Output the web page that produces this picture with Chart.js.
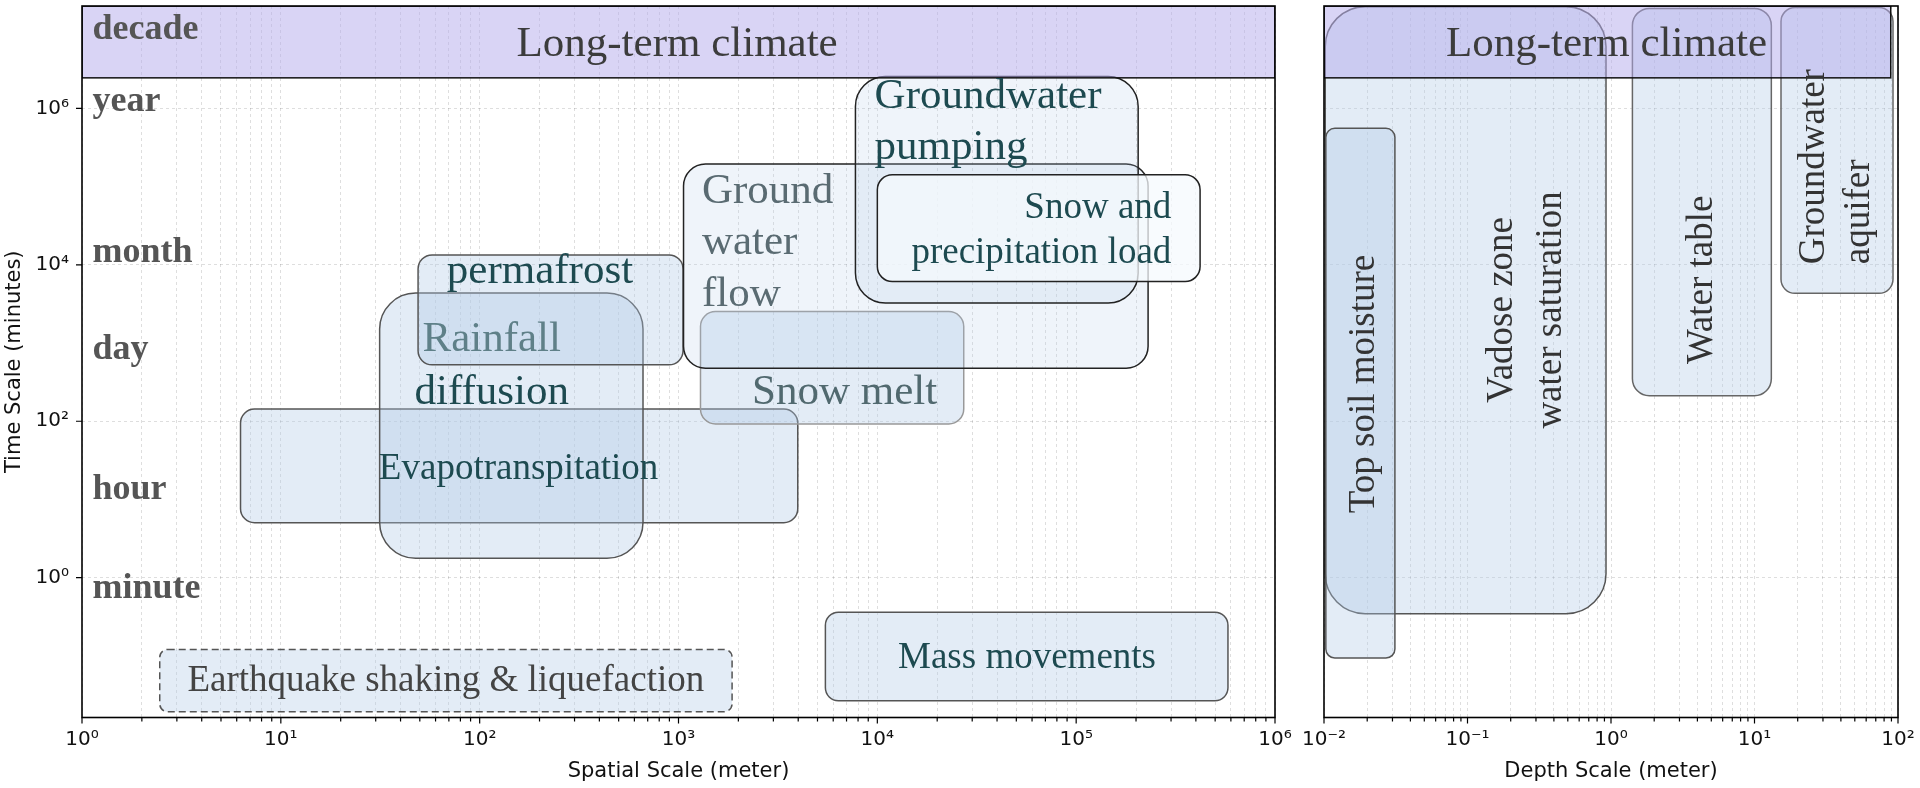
<!DOCTYPE html>
<html>
<head>
<meta charset="utf-8">
<title>Process time and space scales</title>
<script src="https://cdn.jsdelivr.net/npm/chart.js@4.4.1/dist/chart.umd.min.js"></script>
<style>
  body { margin: 0; background: #fff; width: 1920px; height: 788px; overflow: hidden; position: relative; }
  canvas { position: absolute; top: 0; }
  #spatial { left: 0; }
  #depth { left: 1290px; }
</style>
</head>
<body>
<canvas id="spatial" width="1300" height="788"></canvas>
<canvas id="depth" width="630" height="788"></canvas>
<script>
// axes
const timeRange = [0.0163, 2.04e7];
const timeTicks = [1, 100, 1e4, 1e6];
const spatialTicks = [1, 10, 100, 1e3, 1e4, 1e5, 1e6];
const depthTicks = [0.01, 0.1, 1, 10, 100];

// time scale names written inside the left panel
const timeNames = ["decade", "year", "month", "day", "hour", "minute"];
const timeNameY = [1.02e7, 1.23e6, 1.41e4, 813, 13.2, 0.73];
const timeNameX = 1.13;

// long-term climate band (both panels)
const climateLabel = "Long-term climate";
const climateTime = [2.46e6, 2.04e7];
const climateSpatial = [1, 1e6];
const climateDepth = [0.01, 89];
const climateLabelSpatial = 984;
const climateLabelDepth = 0.93;
const climateLabelTime = 6.6e6;

// left panel: spatial extent (meter) vs time scale (minutes)
const spatialProcesses = [
	"Earthquake shaking & liquefaction",
	"Mass movements",
	"Evapotranspitation",
	"Rainfall\ndiffusion",
	"permafrost",
	"Snow melt",
	"Ground\nwater\nflow",
	"Groundwater\npumping",
	"Snow and\nprecipitation load",
];
const spatialMin = [2.46, 5480, 6.27, 31.4, 49, 1290, 1060, 7760, 1.0e4];
const spatialMax = [1860, 5.8e5, 3980, 663, 1054, 27200, 2.3e5, 2.05e5, 4.2e5];
const spatialTimeMin = [0.0193, 0.0267, 5.05, 1.77, 526, 92.5, 477, 3240, 6120];
const spatialTimeMax = [0.121, 0.361, 143, 4350, 13400, 2530, 1.94e5, 2.56e6, 1.42e5];
const spatialLabelX = [67.6, 5.66e4, 157, 115, 201, 6840, 1312, 9690, 3.01e5];
const spatialLabelY = [0.0467, 0.093, 24.4, 504, 8130, 231, 1.91e4, 6.65e5, 2.74e4];

// right panel: depth (meter) vs time scale (minutes)
const depthProcesses = [
	"Vadose zone\nwater saturation",
	"Top soil moisture",
	"Water table",
	"Groundwater\naquifer",
];
const depthMin = [0.0102, 0.0103, 1.41, 15.3];
const depthMax = [0.923, 0.0312, 13.1, 92.3];
const depthTimeMin = [0.347, 0.094, 212, 4330];
const depthTimeMax = [2.0e7, 5.56e5, 1.9e7, 1.95e7];
const depthLabelX = [0.26, 0.019, 4.34, 37.5];
const depthLabelY = [2650, 300, 6430, 1.8e5];

// styles
const lightFill = "rgba(176, 200, 228, 0.35)";
const paleFill = "rgba(176, 200, 228, 0.2)";
const teal = "#1d4a50";

const spatialStyles = [
	{ fill: lightFill, stroke: "#555", dash: [7, 4], radius: 8, size: 37, color: "#444" },
	{ fill: lightFill, stroke: "#555", radius: 13, size: 37, color: teal },
	{ fill: lightFill, stroke: "#555", radius: 14, size: 37, color: teal },
	{ fill: lightFill, stroke: "#555", radius: 36, size: 43, color: teal, lineColors: ["#5f8088", teal], lineHeight: 1.23 },
	{ fill: lightFill, stroke: "#555", radius: 14, size: 43, color: teal },
	{ fill: lightFill, stroke: "#999", radius: 15, size: 43, color: "#51696f" },
	{ fill: paleFill, stroke: "#222", radius: 22, size: 43, color: "#5a6b72", align: "left", lineHeight: 1.2 },
	{ fill: paleFill, stroke: "#222", radius: 30, size: 43, color: teal, align: "left", lineHeight: 1.2 },
	{ fill: "rgba(246, 249, 253, 0.75)", stroke: "#222", radius: 15, size: 37, color: teal, align: "right", lineHeight: 1.22 },
];
const depthStyles = [
	{ fill: lightFill, stroke: "#555", radius: 40, size: 37, color: "#333", rotate: true, lineHeight: 1.32 },
	{ fill: lightFill, stroke: "#555", radius: 9, size: 37, color: "#333", rotate: true },
	{ fill: lightFill, stroke: "#666", radius: 17, size: 37, color: "#333", rotate: true },
	{ fill: lightFill, stroke: "#666", radius: 14, size: 37, color: "#333", rotate: true, block: true, lineHeight: 1.22 },
];
const bandStyle = { fill: "rgba(180, 170, 235, 0.5)", stroke: "#111", size: 43, color: "#3c3c3c" };
const nameStyle = { size: 36, bold: true, color: "#555", align: "left" };

const SUP = { "-": "\u207B", 0: "\u2070", 1: "\u00B9", 2: "\u00B2", 3: "\u00B3", 4: "\u2074", 5: "\u2075", 6: "\u2076", 7: "\u2077", 8: "\u2078", 9: "\u2079" };
function powLabel(v) {
	const e = Math.round(Math.log10(v));
	return "10" + String(e).split("").map((c) => SUP[c]).join("");
}

function withMinors(majors) {
	const out = [];
	majors.forEach((m, i) => {
		out.push({ value: m, major: true });
		if (i < majors.length - 1) {
			for (let k = 2; k <= 9; k++) out.push({ value: m * k, major: false });
		}
	});
	return out;
}

function roundBox(ctx, x0, y0, x1, y1, r) {
	const l = Math.min(x0, x1), rt = Math.max(x0, x1);
	const t = Math.min(y0, y1), b = Math.max(y0, y1);
	r = Math.min(r, (rt - l) / 2, (b - t) / 2);
	ctx.beginPath();
	ctx.moveTo(l + r, t);
	ctx.arcTo(rt, t, rt, b, r);
	ctx.arcTo(rt, b, l, b, r);
	ctx.arcTo(l, b, l, t, r);
	ctx.arcTo(l, t, rt, t, r);
	ctx.closePath();
}

function drawText(ctx, text, px, py, st) {
	const lines = text.split("\n");
	const lh = st.size * (st.lineHeight || 1.2);
	ctx.save();
	ctx.translate(px, py);
	if (st.rotate) ctx.rotate(-Math.PI / 2);
	ctx.font = `${st.bold ? "bold " : ""}${st.size}px "Liberation Serif", "DejaVu Serif", serif`;
	ctx.textBaseline = "middle";
	const maxW = Math.max(...lines.map((l) => ctx.measureText(l).width));
	lines.forEach((line, i) => {
		const dy = (i - (lines.length - 1) / 2) * lh;
		ctx.fillStyle = st.lineColors ? st.lineColors[i] : st.color;
		if (st.block) {
			ctx.textAlign = "left";
			ctx.fillText(line, -maxW / 2, dy);
		} else {
			ctx.textAlign = st.align || "center";
			ctx.fillText(line, 0, dy);
		}
	});
	ctx.restore();
}

function processPlugin(id, boxes, band, names, yTickMarks) {
	return {
		id,
		beforeDatasetsDraw(chart) {
			const { ctx, chartArea: a, scales: { x, y } } = chart;
			ctx.save();
			ctx.beginPath();
			ctx.rect(a.left, a.top, a.right - a.left, a.bottom - a.top);
			ctx.clip();
			// boxes first, text on top of all boxes
			boxes.names.forEach((name, i) => {
				const st = boxes.styles[i];
				roundBox(
					ctx,
					x.getPixelForValue(boxes.x0[i]),
					y.getPixelForValue(boxes.y0[i]),
					x.getPixelForValue(boxes.x1[i]),
					y.getPixelForValue(boxes.y1[i]),
					st.radius
				);
				ctx.fillStyle = st.fill;
				ctx.fill();
				ctx.lineWidth = 1.5;
				ctx.strokeStyle = st.stroke;
				ctx.setLineDash(st.dash || []);
				ctx.stroke();
				ctx.setLineDash([]);
			});
			// climate band
			const bx0 = x.getPixelForValue(band.x[0]);
			const bx1 = x.getPixelForValue(band.x[1]);
			const by0 = y.getPixelForValue(band.y[1]);
			const by1 = y.getPixelForValue(band.y[0]);
			ctx.fillStyle = bandStyle.fill;
			ctx.fillRect(bx0, by0, bx1 - bx0, by1 - by0);
			ctx.lineWidth = 1.5;
			ctx.strokeStyle = bandStyle.stroke;
			ctx.strokeRect(bx0, by0, bx1 - bx0, by1 - by0);

			boxes.names.forEach((name, i) => {
				drawText(ctx, name, x.getPixelForValue(boxes.lx[i]), y.getPixelForValue(boxes.ly[i]), boxes.styles[i]);
			});
			drawText(ctx, climateLabel, x.getPixelForValue(band.lx), y.getPixelForValue(band.ly), bandStyle);
			if (names) {
				names.labels.forEach((n, i) => {
					drawText(ctx, n, x.getPixelForValue(names.x), y.getPixelForValue(names.y[i]), nameStyle);
				});
			}
			ctx.restore();
		},
		afterDraw(chart) {
			const { ctx, chartArea: a, scales: { x, y } } = chart;
			ctx.save();
			ctx.strokeStyle = "#000";
			ctx.lineWidth = 1.6;
			ctx.strokeRect(a.left, a.top, a.right - a.left, a.bottom - a.top);
			ctx.lineWidth = 1.2;
			ctx.beginPath();
			x.ticks.forEach((t) => {
				const px = x.getPixelForValue(t.value);
				ctx.moveTo(px, a.bottom);
				ctx.lineTo(px, a.bottom + (t.major ? 6 : 4));
			});
			if (yTickMarks) {
				y.ticks.forEach((t) => {
					const py = y.getPixelForValue(t.value);
					ctx.moveTo(a.left, py);
					ctx.lineTo(a.left - 6, py);
				});
			}
			ctx.stroke();
			ctx.restore();
		},
	};
}

const gridColor = "rgba(0, 0, 0, 0.13)";
const tickFont = { family: "DejaVu Sans", size: 20 };
const titleFont = { family: "DejaVu Sans", size: 21 };

function xScale(min, max, majors, title) {
	return {
		type: "logarithmic",
		position: "bottom",
		min,
		max,
		afterBuildTicks: (s) => {
			s.ticks = withMinors(majors);
		},
		afterFit: (s) => {
			s.height = 70.5;
			s.paddingLeft = 0;
			s.paddingRight = 0;
		},
		grid: { color: gridColor, lineWidth: 1, drawTicks: false },
		border: { display: false, dash: [3, 3] },
		ticks: {
			autoSkip: false,
			maxRotation: 0,
			padding: 10,
			color: "#111",
			font: tickFont,
			callback: (v, i, ts) => (ts[i] && ts[i].major ? powLabel(v) : ""),
		},
		title: { display: true, text: title, color: "#111", font: titleFont, padding: { top: 4, bottom: 4 } },
	};
}

function yScale(showLabels) {
	return {
		type: "logarithmic",
		position: "left",
		min: timeRange[0],
		max: timeRange[1],
		afterBuildTicks: (s) => {
			s.ticks = timeTicks.map((v) => ({ value: v, major: true }));
		},
		afterFit: (s) => {
			s.width = showLabels ? 82 : 0;
			s.paddingTop = 0;
			s.paddingBottom = 0;
		},
		grid: { color: gridColor, lineWidth: 1, drawTicks: false },
		border: { display: false, dash: [3, 3] },
		ticks: { display: showLabels, padding: 13, color: "#111", font: tickFont, callback: (v) => powLabel(v) },
		title: { display: showLabels, text: "Time Scale (minutes)", color: "#111", font: titleFont, padding: { top: 2, bottom: 2 } },
	};
}

function baseOptions(padding, xs, ys) {
	return {
		responsive: false,
		animation: false,
		events: [],
		layout: { padding },
		plugins: { legend: { display: false }, tooltip: { enabled: false } },
		scales: { x: xs, y: ys },
	};
}

new Chart(document.getElementById("spatial"), {
	type: "scatter",
	data: { datasets: [{ data: [] }] },
	options: baseOptions(
		{ left: 0, top: 6, right: 25, bottom: 0 },
		xScale(1, 1e6, spatialTicks, "Spatial Scale (meter)"),
		yScale(true)
	),
	plugins: [
		processPlugin(
			"spatialBoxes",
			{
				names: spatialProcesses,
				x0: spatialMin,
				x1: spatialMax,
				y0: spatialTimeMin,
				y1: spatialTimeMax,
				lx: spatialLabelX,
				ly: spatialLabelY,
				styles: spatialStyles,
			},
			{ x: climateSpatial, y: climateTime, lx: climateLabelSpatial, ly: climateLabelTime },
			{ labels: timeNames, x: timeNameX, y: timeNameY },
			true
		),
	],
});

new Chart(document.getElementById("depth"), {
	type: "scatter",
	data: { datasets: [{ data: [] }] },
	options: baseOptions(
		{ left: 34, top: 6, right: 22, bottom: 0 },
		xScale(0.01, 100, depthTicks, "Depth Scale (meter)"),
		yScale(false)
	),
	plugins: [
		processPlugin(
			"depthBoxes",
			{
				names: depthProcesses,
				x0: depthMin,
				x1: depthMax,
				y0: depthTimeMin,
				y1: depthTimeMax,
				lx: depthLabelX,
				ly: depthLabelY,
				styles: depthStyles,
			},
			{ x: climateDepth, y: climateTime, lx: climateLabelDepth, ly: climateLabelTime },
			null,
			false
		),
	],
});
</script>
</body>
</html>
